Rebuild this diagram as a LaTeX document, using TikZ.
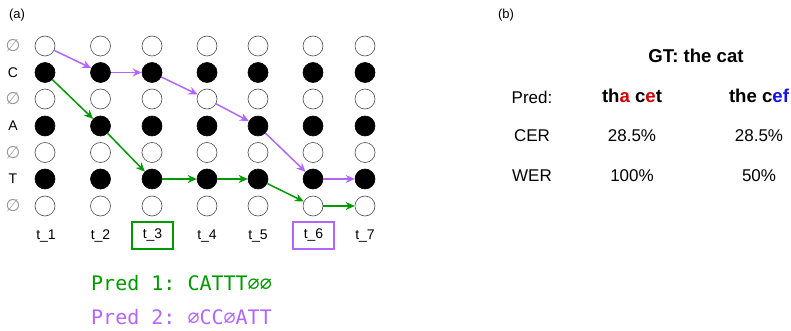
\documentclass[tikz,border=0pt]{standalone}
\usepackage{fontspec}
\setmainfont{Liberation Sans}
\setmonofont{DejaVu Sans Mono}
\newfontfamily\symfont{DejaVu Sans}
\usetikzlibrary{arrows.meta}
\definecolor{pathgreen}{RGB}{0,153,0}
\definecolor{pathpurple}{RGB}{179,102,255}
\definecolor{errred}{RGB}{210,0,0}
\definecolor{errblue}{RGB}{20,20,230}
\definecolor{blankgray}{RGB}{150,150,150}

\begin{document}
\begin{tikzpicture}
[every node/.style={inner sep=0pt},
 blank/.style={circle, minimum size=20pt, fill=white, line width=0.6pt, draw=black!70},
 char/.style={circle, minimum size=20pt, fill=black, line width=0.6pt, draw=black},
 rowlabel/.style={font=\fontsize{14}{14}\selectfont},
 blanklabel/.style={font=\symfont\fontsize{17}{17}\selectfont, text=blankgray},
 steplabel/.style={font=\fontsize{14}{14}\selectfont, minimum width=41pt, minimum height=27pt},
 greenpath/.style={line width=1.5pt, -{Stealth[length=9pt, width=8pt]}, color=pathgreen},
 purplepath/.style={line width=1.5pt, -{Stealth[length=9pt, width=8pt]}, color=pathpurple},
 tablecell/.style={font=\fontsize{17}{17}\selectfont}]
\useasboundingbox (0pt, 0pt) rectangle (791pt, -331pt);
% (a) alignment grid
\node (a) at (17pt, -15pt) {\fontsize{13}{13}\selectfont (a)};
\node (r1) [blanklabel] at (13pt, -46pt) {∅};
\node (r2) [rowlabel] at (13pt, -72.5pt) {C};
\node (r3) [blanklabel] at (13pt, -99pt) {∅};
\node (r4) [rowlabel] at (13pt, -126pt) {A};
\node (r5) [blanklabel] at (13pt, -152.5pt) {∅};
\node (r6) [rowlabel] at (13pt, -179pt) {T};
\node (r7) [blanklabel] at (13pt, -206pt) {∅};
% column t_1
\node (1) [blank] at (45pt, -46pt) {};
\node (2) [char] at (45pt, -72.5pt) {};
\node (3) [blank] at (45pt, -99pt) {};
\node (4) [char] at (45pt, -126pt) {};
\node (5) [blank] at (45pt, -152.5pt) {};
\node (6) [char] at (45pt, -179pt) {};
\node (7) [blank] at (45pt, -206pt) {};
% column t_2
\node (8) [blank] at (100.5pt, -46pt) {};
\node (9) [char] at (100.5pt, -72.5pt) {};
\node (10) [blank] at (100.5pt, -99pt) {};
\node (11) [char] at (100.5pt, -126pt) {};
\node (12) [blank] at (100.5pt, -152.5pt) {};
\node (13) [char] at (100.5pt, -179pt) {};
\node (14) [blank] at (100.5pt, -206pt) {};
% column t_3
\node (15) [blank] at (152pt, -46pt) {};
\node (16) [char] at (152pt, -72.5pt) {};
\node (17) [blank] at (152pt, -99pt) {};
\node (18) [char] at (152pt, -126pt) {};
\node (19) [blank] at (152pt, -152.5pt) {};
\node (20) [char] at (152pt, -179pt) {};
\node (21) [blank] at (152pt, -206pt) {};
% column t_4
\node (22) [blank] at (207pt, -46pt) {};
\node (23) [char] at (207pt, -72.5pt) {};
\node (24) [blank] at (207pt, -99pt) {};
\node (25) [char] at (207pt, -126pt) {};
\node (26) [blank] at (207pt, -152.5pt) {};
\node (27) [char] at (207pt, -179pt) {};
\node (28) [blank] at (207pt, -206pt) {};
% column t_5
\node (29) [blank] at (258pt, -46pt) {};
\node (30) [char] at (258pt, -72.5pt) {};
\node (31) [blank] at (258pt, -99pt) {};
\node (32) [char] at (258pt, -126pt) {};
\node (33) [blank] at (258pt, -152.5pt) {};
\node (34) [char] at (258pt, -179pt) {};
\node (35) [blank] at (258pt, -206pt) {};
% column t_6
\node (36) [blank] at (313pt, -46pt) {};
\node (37) [char] at (313pt, -72.5pt) {};
\node (38) [blank] at (313pt, -99pt) {};
\node (39) [char] at (313pt, -126pt) {};
\node (40) [blank] at (313pt, -152.5pt) {};
\node (41) [char] at (313pt, -179pt) {};
\node (42) [blank] at (313pt, -206pt) {};
% column t_7
\node (43) [blank] at (365pt, -46pt) {};
\node (44) [char] at (365pt, -72.5pt) {};
\node (45) [blank] at (365pt, -99pt) {};
\node (46) [char] at (365pt, -126pt) {};
\node (47) [blank] at (365pt, -152.5pt) {};
\node (48) [char] at (365pt, -179pt) {};
\node (49) [blank] at (365pt, -206pt) {};
% time steps
\node (t1) [steplabel] at (46pt, -236pt) {t\_1};
\node (t2) [steplabel] at (100.5pt, -236pt) {t\_2};
\node (t3) [steplabel, draw=pathgreen, line width=1.5pt] at (152.5pt, -235.5pt) {t\_3};
\node (t4) [steplabel] at (207pt, -236pt) {t\_4};
\node (t5) [steplabel] at (258pt, -236pt) {t\_5};
\node (t6) [steplabel, draw=pathpurple, line width=1.5pt] at (313.5pt, -235.5pt) {t\_6};
\node (t7) [steplabel] at (365pt, -236pt) {t\_7};
% paths
\draw [greenpath] (2) to (11);
\draw [greenpath] (11) to (20);
\draw [greenpath] (20) to (27);
\draw [greenpath] (27) to (34);
\draw [greenpath] (34) to (42);
\draw [greenpath] (42) to (49);
\draw [purplepath] (1) to (9);
\draw [purplepath] (9) to (16);
\draw [purplepath] (16) to (24);
\draw [purplepath] (24) to (32);
\draw [purplepath] (32) to (41);
\draw [purplepath] (41) to (48);
\node (pred1) [anchor=west, text=pathgreen] at (91pt, -283pt) {\ttfamily\fontsize{20}{20}\selectfont Pred 1: CATTT∅∅};
\node (pred2) [anchor=west, text=pathpurple] at (91pt, -317.5pt) {\ttfamily\fontsize{20}{20}\selectfont Pred 2: ∅CC∅ATT};
% (b) error rates
\node (b) at (506pt, -15pt) {\fontsize{13}{13}\selectfont (b)};
\node (gt) at (696pt, -56pt) {\fontsize{18.6}{18.6}\selectfont\bfseries GT: the cat};
\node (pred) [tablecell] at (532pt, -97pt) {Pred:};
\node (p1) at (632pt, -96pt) {\fontsize{18.6}{18.6}\selectfont\bfseries th\textcolor{errred}{a} c\textcolor{errred}{e}t};
\node (p2) at (759pt, -96pt) {\fontsize{18.6}{18.6}\selectfont\bfseries the c\textcolor{errblue}{ef}};
\node (cer) [tablecell] at (532pt, -136pt) {CER};
\node (cer1) [tablecell] at (632pt, -136pt) {28.5\%};
\node (cer2) [tablecell] at (759pt, -136pt) {28.5\%};
\node (wer) [tablecell] at (532pt, -176pt) {WER};
\node (wer1) [tablecell] at (632pt, -176pt) {100\%};
\node (wer2) [tablecell] at (759pt, -176pt) {50\%};
\end{tikzpicture}
\end{document}
